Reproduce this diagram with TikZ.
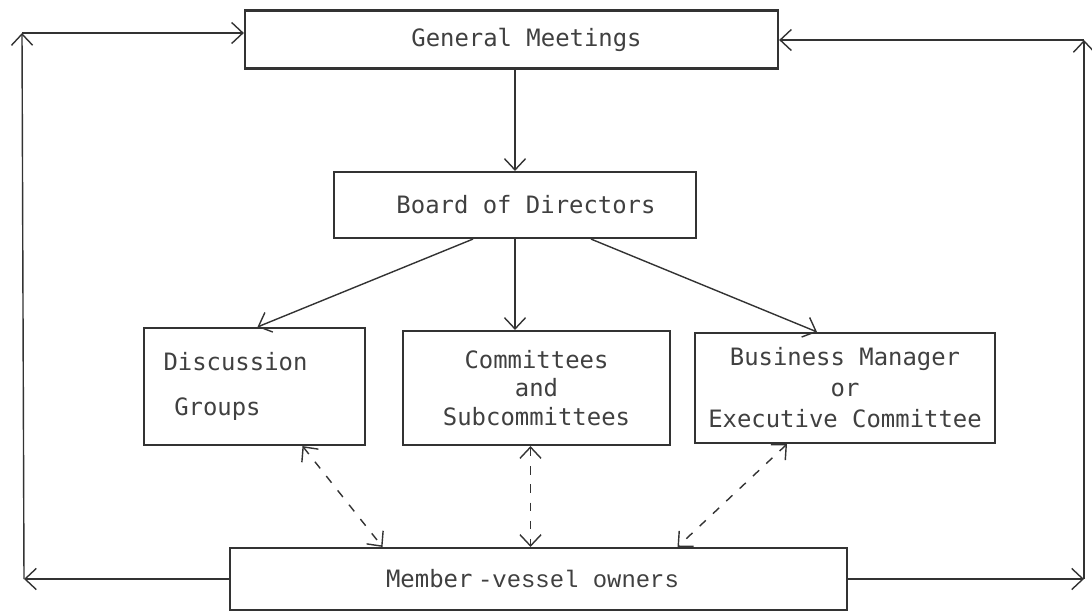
\documentclass[tikz,border=0pt]{standalone}
\usepackage{fontspec}
\usepackage{tikz}
\usetikzlibrary{arrows.meta,calc}
\newfontfamily\dejamono{DejaVu Sans Mono}
\newfontfamily\couriermono{Liberation Mono}

\begin{document}
\begin{tikzpicture}[x=0.025cm, y=-0.025cm,
            box/.style={draw=black!80, line width=1.5pt, inner sep=0pt, text=black!75, align=center,
                        font=\dejamono\fontsize{17}{20}\selectfont},
            flow/.style={draw=black!80, line width=1pt, -{Straight Barb[length=8pt,width=15pt]}},
            twoway/.style={flow, dash pattern=on 6pt off 7pt,
                        {Straight Barb[length=8pt,width=15pt]}-{Straight Barb[length=8pt,width=15pt]}}]
            \useasboundingbox (0,0) rectangle (1092,613);
            % boxes
            \node[box, minimum width=13.325cm, minimum height=1.45cm] (gm) at (511.5,39.5) {\hspace*{0.75cm}General Meetings};
            \node[box, minimum width=9.05cm, minimum height=1.65cm] (bod) at (515,205) {\hspace*{0.55cm}Board of Directors};
            \node[box, minimum width=5.525cm, minimum height=2.925cm, align=left] (dg) at (254.5,386.5)
                {Discussion\hspace*{0.95cm}\\[12pt]\hspace*{0.45em}Groups};
            \node[box, minimum width=6.675cm, minimum height=2.85cm] (cs) at (536.5,388) {Committees\\and\\Subcommittees};
            \node[box, minimum width=7.5cm, minimum height=2.75cm] (bm) at (845,388)
                {Business Manager\\[2pt]or\\[2pt]Executive Committee};
            \node[box, minimum width=15.425cm, minimum height=1.55cm] (mv) at (538.5,579)
                {Member\kern4pt{\couriermono-vessel owners}\hspace*{0.3cm}};
            % loop corners
            \coordinate (lb) at (24,579);
            \coordinate (lt) at (22,33);
            \coordinate (rb) at (1084,579);
            \coordinate (rt) at (1084,40);
            % solid arrows
            \draw[flow] (bod.north |- gm.south) -- (bod.north);
            \draw[flow] ($(bod.south)+(-42,0)$) -- ($(dg.north)+(3,0)$);
            \draw[flow] (bod.south) -- (bod.south |- cs.north);
            \draw[flow] ($(bod.south)+(76,0)$) -- ($(bm.north)+(-28,0)$);
            \draw[flow] (mv.west) -- (lb);
            \draw[flow] (lb) -- (lt);
            \draw[flow] (lt) -- (lt -| gm.west);
            \draw[flow] (mv.east) -- (rb);
            \draw[flow] (rb) -- (rt);
            \draw[flow] (rt) -- (rt -| gm.east);
            % dashed two-way arrows
            \draw[twoway] ($(dg.south)+(48,0)$) -- ($(mv.north)+(-156,0)$);
            \draw[twoway] ($(cs.south)+(-6,0)$) -- ($(cs.south |- mv.north)+(-6,0)$);
            \draw[twoway] ($(bm.south)+(-58,0)$) -- ($(mv.north)+(139,0)$);
\end{tikzpicture}
\end{document}
